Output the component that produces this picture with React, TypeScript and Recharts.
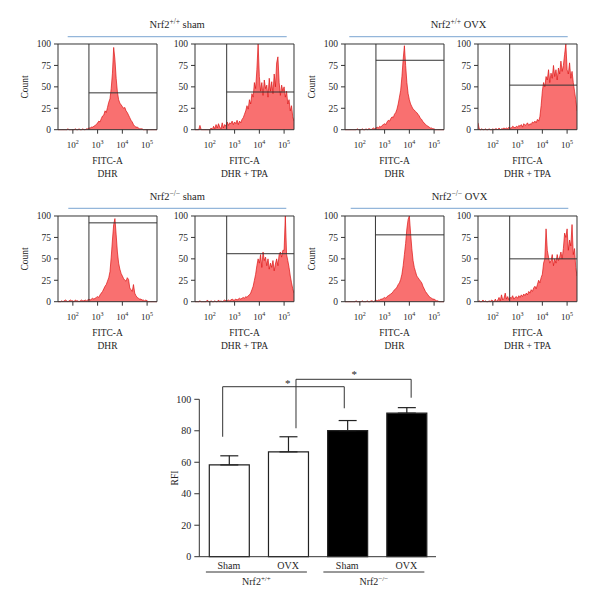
import React from 'react';
import {
  AreaChart, Area, XAxis, YAxis, ReferenceLine, ReferenceArea, ReferenceDot,
  BarChart, Bar, ErrorBar, Cell,
} from 'recharts';

const FONT = '"Liberation Serif", "Times New Roman", Times, serif';
const INK = '#262626';

// ---- flow cytometry histograms (log10 FITC-A bins) ----
const LOG_MIN = 1.4;
const LOG_MAX = 5.4;
const LOG_STEP = 0.05;
const LOG_TICKS = [2, 3, 4, 5];
const COUNT_TICKS = [0, 25, 50, 75, 100];

const WT_SHAM_DHR = [
  0, 0, 0, 0, 0, 0, 0, 0, 1, 0, 0, 0,
  0, 0, 1, 0, 0, 1, 0, 0, 1, 0,
  0, 1, 1, 2, 2, 3, 3, 4, 5, 6,
  8, 10, 9, 13, 16, 17, 22, 20, 26, 32,
  36, 48, 66, 96, 82, 60, 44, 35, 31, 29,
  27, 25, 26, 22, 20, 17, 14, 11, 9, 6,
  4, 3, 3, 2, 1, 1, 1, 0, 0, 0,
  0, 0, 0, 0, 0, 0, 0, 0, 0,
];
const WT_SHAM_TPA = [
  0, 0, 0, 0, 5, 0, 0, 0, 0, 0, 0, 0,
  0, 2, 0, 4, 1, 6, 2, 7, 3, 1,
  8, 2, 6, 4, 9, 5, 8, 7, 10, 6,
  9, 7, 11, 6, 10, 8, 12, 14, 18, 22,
  28, 24, 35, 30, 42, 38, 55, 48, 70, 100,
  62, 45, 55, 40, 58, 48, 52, 38, 60, 45,
  56, 42, 65, 50, 78, 85, 55, 40, 52, 45,
  50, 38, 45, 30, 35, 22, 28, 15, 10,
];
const WT_OVX_DHR = [
  0, 0, 0, 0, 0, 0, 0, 0, 0, 0, 1, 0,
  0, 0, 1, 0, 0, 1, 0, 1, 1, 0,
  1, 2, 1, 2, 3, 2, 4, 3, 5, 6,
  7, 6, 9, 11, 10, 13, 15, 14, 18, 20,
  24, 30, 38, 46, 62, 82, 98, 75, 55, 42,
  35, 30, 27, 24, 23, 21, 20, 18, 16, 13,
  12, 9, 8, 6, 5, 4, 3, 2, 2, 1,
  1, 0, 0, 0, 0, 0, 0, 0, 0,
];
const WT_OVX_TPA = [
  8, 1, 0, 1, 0, 0, 1, 0, 0, 1, 0, 0,
  1, 0, 1, 1, 0, 2, 0, 1, 1, 2,
  1, 2, 1, 3, 2, 2, 4, 3, 2, 4,
  3, 5, 4, 6, 3, 7, 5, 6, 8, 5,
  7, 6, 9, 8, 10, 8, 12, 10, 15, 28,
  45, 55, 50, 62, 58, 70, 55, 66, 60, 75,
  62, 70, 58, 72, 65, 80, 68, 75, 88, 100,
  70, 65, 78, 60, 68, 55, 45, 35, 22,
];
const KO_SHAM_DHR = [
  0, 0, 0, 1, 0, 1, 2, 1, 0, 1, 2, 1,
  1, 0, 2, 1, 1, 0, 1, 2, 1, 1,
  2, 1, 2, 3, 2, 3, 4, 3, 4, 5,
  6, 5, 8, 10, 12, 15, 18, 20, 24, 28,
  35, 52, 72, 90, 97, 78, 58, 45, 38, 33,
  30, 27, 25, 24, 28, 26, 16, 14, 12, 20,
  10, 7, 5, 4, 3, 3, 2, 2, 1, 2,
  1, 0, 0, 0, 0, 0, 0, 0, 0,
];
const KO_SHAM_TPA = [
  0, 0, 0, 0, 1, 0, 0, 0, 0, 0, 2, 0,
  0, 1, 0, 0, 1, 0, 0, 2, 0, 1,
  0, 1, 2, 1, 1, 2, 1, 2, 3, 2,
  2, 3, 2, 3, 4, 3, 4, 5, 4, 6,
  5, 7, 8, 10, 14, 18, 25, 32, 42, 50,
  45, 55, 40, 58, 48, 52, 42, 50, 38, 45,
  40, 48, 36, 44, 50, 42, 55, 58, 52, 60,
  60, 100, 55, 48, 40, 30, 22, 15, 10,
];
const KO_OVX_DHR = [
  0, 0, 0, 0, 0, 0, 0, 0, 0, 1, 0, 0,
  0, 0, 1, 0, 0, 0, 1, 0, 0, 1,
  1, 0, 1, 2, 1, 2, 2, 3, 3, 4,
  5, 4, 6, 7, 8, 9, 10, 12, 14, 15,
  17, 20, 22, 26, 32, 42, 55, 68, 85, 96,
  100, 80, 62, 48, 40, 35, 30, 28, 26, 24,
  22, 18, 15, 12, 10, 8, 6, 5, 4, 3,
  3, 2, 1, 1, 0, 0, 0, 0, 0,
];
const KO_OVX_TPA = [
  0, 1, 0, 0, 2, 0, 1, 0, 0, 1, 0, 2,
  1, 0, 3, 0, 2, 5, 1, 8, 2, 4,
  10, 3, 6, 2, 5, 4, 7, 3, 5, 6,
  4, 7, 5, 8, 6, 9, 7, 10, 8, 12,
  10, 14, 12, 16, 18, 15, 20, 25, 22, 28,
  32, 45, 50, 85, 60, 52, 45, 48, 55, 42,
  50, 45, 55, 48, 52, 58, 50, 62, 80, 75,
  85, 60, 72, 65, 90, 55, 62, 40, 30,
];

const HISTS = [
  WT_SHAM_DHR, WT_SHAM_TPA, WT_OVX_DHR, WT_OVX_TPA,
  KO_SHAM_DHR, KO_SHAM_TPA, KO_OVX_DHR, KO_OVX_TPA,
];
const GATE_X = [2.65, 2.68, 2.65, 2.68, 2.65, 2.68, 2.63, 2.68];
const GATE_Y = [43, 44, 81, 52, 92, 56, 78, 50];
const GENOTYPE_SUP = ['+/+', '\u2212/\u2212'];
const TREATMENTS = ['sham', 'OVX'];
const STAINS = ['DHR', 'DHR + TPA'];

// ---- RFI bar chart ----
const RFI_GROUPS = ['Sham', 'OVX', 'Sham', 'OVX'];
const RFI_MEAN = [58.3, 66.6, 80.1, 91.2];
const RFI_ERR = [5.8, 9.6, 6.4, 3.5];
const RFI_FILL = ['#ffffff', '#ffffff', '#000000', '#000000'];
const RFI_TICKS = [0, 20, 40, 60, 80, 100];
const GENOTYPE_POS = [0.965, 2.95];
const BRACKET_FROM = [0.395, 1.634];
const BRACKET_TO = [2.45, 3.58];
const BRACKET_TOP = [108, 112.7];
const BRACKET_FROM_Y = [76.2, 81.6];
const BRACKET_TO_Y = [94.3, 101];
const STAR_X = [1.494, 2.62];
const STAR_Y = [110.7, 116.5];

// ---- layout ----
const PANEL_COLS = [58.3, 195, 344.5, 478.3];
const PANEL_ROWS = [44.3, 215.8];
const PLOT_W = 99;
const PLOT_H = 85.7;
const HEADERS = [
  { x1: 67.7, x2: 286.7, y: 36.7 },
  { x1: 349.3, x2: 567.7, y: 36.7 },
  { x1: 68.3, x2: 286.3, y: 208.3 },
  { x1: 350.7, x2: 568.3, y: 208.3 },
];

function DecadeTick(props: any) {
  const { x, y, payload } = props;
  return (
    <text x={x} y={y + 12.5} textAnchor="middle" fontFamily={FONT} fontSize={9} fill={INK}>
      10<tspan dy={-4.5} fontSize={6}>{payload.value}</tspan>
    </text>
  );
}

function StainLabel(props: any) {
  const vb = props.viewBox || { x: 0, y: 0, width: 0 };
  const cx = vb.x + vb.width / 2;
  return (
    <g fontFamily={FONT} fill={INK} textAnchor="middle">
      <text x={cx} y={vb.y + 34.5} fontSize={9.5} fill={INK}>FITC-A</text>
      <text x={cx} y={vb.y + 47.5} fontSize={9.5} fill={INK} style={{ whiteSpace: 'pre' }}>{props.stain}</text>
    </g>
  );
}

function CountLabel(props: any) {
  const vb = props.viewBox || { x: 0, y: 0, width: 0, height: 0 };
  const cx = vb.x + vb.width - 33;
  const cy = vb.y + vb.height / 2;
  return (
    <text x={cx} y={cy} transform={`rotate(-90 ${cx} ${cy})`} textAnchor="middle" dominantBaseline="central"
      fontFamily={FONT} fontSize={9.5} fill={INK}>Count</text>
  );
}

function Histogram({ left, top, values, gateX, gateY, showCount, stain }: any) {
  const data = values.map((v: number, i: number) => ({ x: +(LOG_MIN + i * LOG_STEP).toFixed(2), n: v }));
  const ML = 50;
  const MT = 10;
  return (
    <div style={{ position: 'absolute', left: left - ML, top: top - MT }}>
      <AreaChart width={ML + PLOT_W + 10} height={MT + PLOT_H + 55} data={data}
        margin={{ top: MT, right: 10, bottom: 5, left: 12 }}>
        <XAxis dataKey="x" type="number" domain={[LOG_MIN, LOG_MAX]} ticks={LOG_TICKS} allowDataOverflow
          axisLine={false} tickSize={4} stroke="#333" height={50} tick={<DecadeTick />}
          label={<StainLabel stain={stain} />} />
        <YAxis type="number" domain={[0, 100]} ticks={COUNT_TICKS} width={38} axisLine={false}
          tickSize={4} tickMargin={3} stroke="#333"
          tick={{ fontSize: 9.5, fontFamily: FONT, fill: INK }}
          label={showCount ? <CountLabel /> : undefined} />
        <Area dataKey="n" type="linear" stroke="#dc1414" strokeWidth={0.7} fill="#f86060" fillOpacity={0.9}
          isAnimationActive={false} dot={false} activeDot={false} />
        <ReferenceLine x={gateX} stroke="#333" strokeWidth={1} />
        <ReferenceLine segment={[{ x: gateX, y: gateY }, { x: LOG_MAX, y: gateY }]} stroke="#333" strokeWidth={1} />
        <ReferenceArea x1={LOG_MIN} x2={LOG_MAX} y1={0} y2={100} fill="none" fillOpacity={0}
          stroke="#333" strokeWidth={1} />
      </AreaChart>
    </div>
  );
}

function CatTick(props: any) {
  const { x, y, payload } = props;
  return (
    <text x={x} y={y + 12.3} textAnchor="middle" fontFamily={FONT} fontSize={10} fill={INK}>
      {RFI_GROUPS[payload.value]}
    </text>
  );
}

function GenotypeTick(props: any) {
  const { x, y, index } = props;
  return (
    <g>
      <line x1={x - 50.5} x2={x + 50.5} y1={y - 0.7} y2={y - 0.7} stroke="#333" strokeWidth={1} />
      <text x={x} y={y + 12.5} textAnchor="middle" fontFamily={FONT} fontSize={10} fill={INK}>
        Nrf2<tspan dy={-4} fontSize={7}>{GENOTYPE_SUP[index]}</tspan>
      </text>
    </g>
  );
}

function RfiLabel(props: any) {
  const vb = props.viewBox || { x: 0, y: 0, width: 0, height: 0 };
  const cx = vb.x + vb.width - 24.3;
  const cy = vb.y + vb.height / 2;
  return (
    <text x={cx} y={cy} transform={`rotate(-90 ${cx} ${cy})`} textAnchor="middle" dominantBaseline="central"
      fontFamily={FONT} fontSize={9.5} fill={INK}>RFI</text>
  );
}

function Star(props: any) {
  return (
    <text x={props.cx} y={props.cy + 5} textAnchor="middle" fontFamily={FONT} fontSize={11} fill={INK}
      stroke="none">*</text>
  );
}

function RfiChart() {
  const data = RFI_MEAN.map((m, i) => ({ id: i, pos: i + 0.5, rfi: m, err: [0, RFI_ERR[i]] }));
  return (
    <div style={{ position: 'absolute', left: 150, top: 360 }}>
      <BarChart width={300} height={250} data={data} barSize={40}
        margin={{ top: 39.3, right: 14, bottom: 7.3, left: 9.3 }}>
        <XAxis xAxisId="cat" dataKey="id" type="category" tickLine={false} tickSize={0} tickMargin={0}
          axisLine={{ stroke: '#333', strokeWidth: 1 }} height={16} tick={<CatTick />} interval={0} />
        <XAxis xAxisId="g" dataKey="pos" type="number" domain={[0, 4]} allowDataOverflow ticks={GENOTYPE_POS}
          axisLine={false} tickLine={false} tickSize={0} tickMargin={0} height={30} tick={<GenotypeTick />} />
        <YAxis type="number" domain={[0, 100]} ticks={RFI_TICKS} width={40} tickSize={5} tickMargin={3}
          stroke="#333" tick={{ fontSize: 10, fontFamily: FONT, fill: INK }} label={<RfiLabel />} />
        <Bar xAxisId="cat" dataKey="rfi" stroke="#222" strokeWidth={1.2} isAnimationActive={false}>
          {data.map((d, i) => <Cell key={i} fill={RFI_FILL[i]} />)}
          <ErrorBar dataKey="err" width={9} stroke="#222" strokeWidth={1.2} direction="y" />
        </Bar>
        {BRACKET_FROM.map((f, i) => (
          <ReferenceLine key={`l${i}`} xAxisId="g" ifOverflow="visible" stroke="#333" strokeWidth={1}
            segment={[{ x: f, y: BRACKET_FROM_Y[i] }, { x: f, y: BRACKET_TOP[i] }]} />
        ))}
        {BRACKET_FROM.map((f, i) => (
          <ReferenceLine key={`t${i}`} xAxisId="g" ifOverflow="visible" stroke="#333" strokeWidth={1}
            segment={[{ x: f, y: BRACKET_TOP[i] }, { x: BRACKET_TO[i], y: BRACKET_TOP[i] }]} />
        ))}
        {BRACKET_TO.map((t, i) => (
          <ReferenceLine key={`r${i}`} xAxisId="g" ifOverflow="visible" stroke="#333" strokeWidth={1}
            segment={[{ x: t, y: BRACKET_TOP[i] }, { x: t, y: BRACKET_TO_Y[i] }]} />
        ))}
        {STAR_X.map((sx, i) => (
          <ReferenceDot key={`s${i}`} xAxisId="g" x={sx} y={STAR_Y[i]} r={0} ifOverflow="visible"
            fill={INK} stroke="none" shape={<Star />} />
        ))}
      </BarChart>
    </div>
  );
}

export default function App() {
  return (
    <div style={{ position: 'absolute', left: 0, top: 0, width: 600, height: 610, background: '#fff', fontFamily: FONT }}>
      <svg width={600} height={610} style={{ position: 'absolute', left: 0, top: 0 }}>
        {HEADERS.map((h, k) => {
          const cx = (h.x1 + h.x2) / 2;
          return (
            <g key={k}>
              <line x1={h.x1} x2={h.x2} y1={h.y} y2={h.y} stroke="#94b6da" strokeWidth={1.2} />
              <text x={cx} y={h.y - 8.5} textAnchor="middle" fontFamily={FONT} fontSize={10.5} fill={INK}
                style={{ whiteSpace: 'pre' }}>
                Nrf2<tspan dy={-4} fontSize={7.5}>{GENOTYPE_SUP[Math.floor(k / 2)]}</tspan>
                <tspan dy={4} fontSize={10.5}>{' ' + TREATMENTS[k % 2]}</tspan>
              </text>
            </g>
          );
        })}
      </svg>
      {HISTS.map((vals, k) => {
        const row = Math.floor(k / 4);
        const col = k % 4;
        return (
          <Histogram key={k} left={PANEL_COLS[col]} top={PANEL_ROWS[row]} values={vals}
            gateX={GATE_X[k]} gateY={GATE_Y[k]} showCount={col % 2 === 0} stain={STAINS[col % 2]} />
        );
      })}
      <RfiChart />
    </div>
  );
}
